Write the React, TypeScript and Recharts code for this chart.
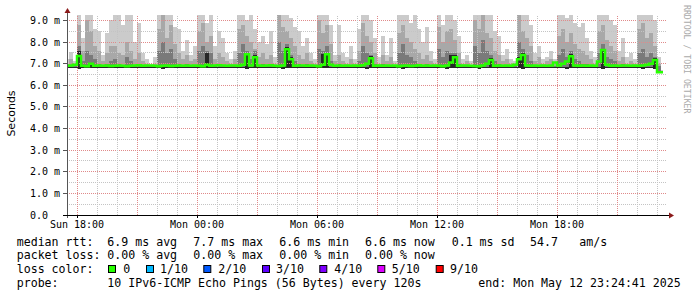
import { ComposedChart, Area, Line, XAxis, YAxis, ReferenceLine } from "recharts";

// samples every 12 minutes, hours counted from Sun 18:00
const START_HOUR = -0.5;
const STEP_HOURS = 0.2;

const TIME_TICKS = [0, 6, 12, 18, 24];
const TIME_LABELS = ["Sun 18:00", "Mon 00:00", "Mon 06:00", "Mon 12:00", "Mon 18:00"];
const HOUR_GRID = [1, 2, 4, 5, 7, 8, 10, 11, 13, 14, 16, 17, 19, 20, 22, 23, 25, 26, 28, 29];
const THREE_HOUR_GRID = [0, 3, 6, 9, 12, 15, 18, 21, 24, 27];
const RTT_TICKS = [0, 1, 2, 3, 4, 5, 6, 7, 8, 9];
const RTT_HALF_GRID = [0.5, 1.5, 2.5, 3.5, 4.5, 5.5, 6.5, 7.5, 8.5];

// rtt values in ms
const MIN_RTT = [
  6.8, 6.82, 6.8, 6.76, 6.79, 6.78, 6.8, 6.79, 6.81, 6.82,
  6.8, 6.8, 6.79, 6.8, 6.81, 6.79, 6.8, 6.82, 6.8, 6.81,
  6.82, 6.81, 6.8, 6.78, 6.77, 6.79, 6.78, 6.8, 6.8, 6.81,
  6.8, 6.82, 6.81, 6.79, 6.78, 6.79, 6.8, 6.81, 6.8, 6.82,
  6.81, 6.82, 6.8, 6.78, 6.79, 6.77, 6.8, 6.79, 6.8, 6.81,
  6.8, 6.8, 6.82, 6.78, 6.77, 6.79, 6.8, 6.79, 6.81, 6.8,
  6.8, 6.82, 6.81, 6.79, 6.78, 6.79, 6.8, 6.82, 6.8, 6.81,
  6.82, 6.8, 6.81, 6.8, 6.78, 6.77, 6.79, 6.8, 6.82, 6.8,
  6.81, 6.8, 6.82, 6.79, 6.77, 6.78, 6.8, 6.79, 6.8, 6.81,
  6.8, 6.81, 6.82, 6.78, 6.79, 6.77, 6.78, 6.79, 6.8, 6.82,
  6.81, 6.82, 6.79, 6.77, 6.78, 6.79, 6.8, 6.8, 6.81, 6.8,
  6.82, 6.81, 6.8, 6.78, 6.77, 6.79, 6.8, 6.81, 6.8, 6.82,
  6.81, 6.8, 6.8, 6.78, 6.79, 6.77, 6.78, 6.8, 6.79, 6.8,
  6.81, 6.8, 6.82, 6.79, 6.77, 6.78, 6.8, 6.79, 6.81, 6.8,
  6.82, 6.81, 6.8, 6.78, 6.77, 6.79, 6.78, 6.76, 6.57, 6.56,
];

const MAX_RTT = [
  7.2, 7.55, 7.1, 9.3, 8.2, 9.3, 9.3, 8.6, 8.5, 7.4,
  8.4, 9.0, 9.3, 9.3, 8.8, 9.3, 9.3, 8.0, 8.9, 7.5,
  7.2, 7.0, 7.3, 9.3, 9.3, 9.3, 9.3, 8.7, 8.6, 7.6,
  8.1, 7.4, 7.8, 9.3, 9.3, 8.9, 9.3, 7.8, 8.5, 8.2,
  7.5, 7.2, 7.6, 9.3, 9.3, 9.0, 9.3, 8.6, 8.0, 8.3,
  7.9, 8.5, 7.3, 9.3, 9.3, 9.3, 9.1, 8.7, 8.5, 7.8,
  8.2, 7.5, 7.2, 9.3, 9.3, 9.3, 8.8, 7.4, 8.8, 7.5,
  7.3, 7.8, 7.2, 8.6, 9.3, 9.3, 9.0, 8.2, 7.3, 8.3,
  7.4, 8.2, 7.1, 9.3, 9.3, 9.3, 8.9, 9.3, 8.6, 8.0,
  8.7, 7.6, 7.2, 9.3, 8.8, 9.3, 9.3, 9.0, 8.3, 7.2,
  7.4, 7.1, 9.3, 9.3, 9.3, 9.3, 9.3, 8.5, 8.3, 7.4,
  7.7, 7.2, 7.1, 9.3, 9.3, 9.3, 8.8, 7.5, 7.8, 7.2,
  7.3, 7.6, 7.2, 9.3, 9.3, 9.1, 9.3, 8.9, 8.7, 8.9,
  8.2, 7.6, 7.3, 9.3, 9.3, 9.3, 9.0, 8.8, 7.6, 8.2,
  7.3, 7.5, 7.2, 9.3, 9.3, 9.3, 9.3, 9.0, 7.3, 6.7,
];

const PING_9 = [
  7.0, 7.2, 6.95, 8.8, 7.6, 9.0, 8.5, 7.8, 7.6, 7.1,
  7.5, 7.8, 7.8, 7.5, 7.4, 8.0, 7.6, 7.2, 7.5, 7.1,
  7.0, 6.95, 7.0, 8.6, 9.3, 8.2, 8.8, 7.9, 7.5, 7.2,
  7.4, 7.1, 7.2, 8.5, 8.9, 8.0, 8.3, 7.2, 7.5, 7.3,
  7.1, 7.0, 7.2, 8.6, 8.8, 8.3, 8.0, 7.7, 7.3, 7.5,
  7.2, 7.4, 7.0, 9.3, 8.7, 8.5, 8.2, 7.8, 7.4, 7.2,
  7.5, 7.1, 7.0, 9.0, 8.4, 8.8, 7.9, 7.1, 7.4, 7.1,
  7.0, 7.2, 7.0, 7.6, 8.9, 8.3, 8.0, 7.5, 7.0, 7.4,
  7.1, 7.3, 6.95, 8.4, 8.8, 8.2, 8.0, 7.7, 7.5, 7.2,
  7.4, 7.1, 7.0, 8.7, 8.0, 8.5, 8.6, 8.1, 7.5, 7.0,
  7.1, 6.95, 9.0, 8.6, 9.3, 8.4, 8.2, 7.6, 7.4, 7.1,
  7.2, 7.0, 6.95, 9.3, 8.5, 8.2, 7.8, 7.1, 7.3, 7.0,
  7.1, 7.2, 7.0, 8.3, 8.6, 8.0, 8.4, 7.9, 7.7, 7.6,
  7.4, 7.2, 7.0, 8.5, 8.8, 8.1, 7.8, 7.6, 7.1, 7.3,
  7.0, 7.1, 7.0, 8.6, 8.9, 8.2, 8.4, 7.8, 7.0, 6.65,
];

const PING_8 = [
  6.9, 6.95, 6.9, 7.8, 7.1, 7.6, 7.4, 7.2, 7.0, 6.92,
  7.0, 7.1, 7.2, 7.0, 6.95, 7.3, 7.1, 6.95, 7.0, 6.9,
  6.9, 6.9, 6.9, 7.6, 8.0, 7.5, 7.7, 7.2, 7.0, 6.92,
  7.0, 6.92, 6.95, 7.6, 7.8, 7.6, 7.5, 6.95, 7.0, 6.95,
  6.92, 6.9, 6.95, 7.5, 7.9, 7.6, 7.2, 7.6, 6.95, 7.0,
  6.95, 7.0, 6.9, 8.0, 7.6, 7.9, 7.4, 7.1, 7.0, 6.92,
  7.0, 6.9, 6.9, 7.7, 7.6, 7.8, 7.1, 6.9, 7.0, 6.92,
  6.9, 6.95, 6.9, 7.1, 7.8, 7.5, 7.4, 7.0, 6.9, 7.0,
  6.92, 6.95, 6.9, 7.5, 7.9, 7.4, 7.3, 7.1, 7.0, 6.95,
  7.0, 6.92, 6.9, 7.7, 7.3, 7.6, 7.5, 7.5, 7.0, 6.9,
  6.95, 6.9, 7.8, 7.5, 8.1, 7.6, 7.4, 7.1, 7.0, 6.92,
  6.95, 6.9, 6.9, 8.0, 7.7, 7.4, 7.1, 6.92, 6.95, 6.9,
  6.92, 6.95, 6.9, 7.4, 7.7, 7.3, 7.6, 7.2, 7.1, 7.0,
  7.0, 6.95, 6.9, 7.5, 7.9, 7.3, 7.2, 7.1, 6.9, 7.0,
  6.9, 6.92, 6.9, 7.5, 7.7, 7.3, 7.5, 7.3, 6.9, 6.62,
];

const PING_7 = [
  6.86, 6.86, 6.86, 7.6, 6.86, 6.86, 7.05, 6.86, 6.86, 6.86,
  6.86, 6.86, 6.86, 6.86, 6.86, 6.86, 6.86, 6.86, 6.86, 6.86,
  6.86, 6.86, 6.86, 6.86, 6.86, 6.86, 6.86, 6.86, 6.86, 6.86,
  6.86, 6.86, 6.86, 6.86, 6.86, 7.5, 6.86, 6.86, 6.86, 6.86,
  6.86, 6.86, 6.86, 6.86, 6.86, 7.5, 6.86, 7.4, 6.86, 6.86,
  6.86, 6.86, 6.86, 6.86, 6.86, 7.75, 7.3, 6.86, 6.86, 6.86,
  6.86, 6.86, 6.86, 6.86, 7.45, 7.5, 6.86, 6.86, 6.86, 6.86,
  6.86, 6.86, 6.86, 6.86, 6.86, 6.86, 7.35, 6.86, 6.86, 6.86,
  6.86, 6.86, 6.86, 6.86, 6.86, 6.86, 6.86, 6.86, 6.86, 6.86,
  6.86, 6.86, 6.86, 6.86, 6.86, 6.86, 7.4, 7.4, 6.86, 6.86,
  6.86, 6.86, 6.86, 6.86, 6.86, 6.86, 7.25, 6.86, 6.86, 6.86,
  6.86, 6.86, 6.86, 7.3, 7.5, 6.86, 6.86, 6.86, 6.86, 6.86,
  6.86, 6.86, 6.86, 6.86, 6.86, 6.86, 7.45, 6.86, 6.86, 6.86,
  6.86, 6.86, 6.86, 6.86, 7.7, 6.86, 6.86, 6.86, 6.86, 6.86,
  6.86, 6.86, 6.86, 6.86, 6.86, 6.86, 6.86, 7.25, 6.6, 6.6,
];

const MEDIAN_RTT = [
  6.9, 6.92, 6.95, 7.35, 6.9, 6.88, 7.0, 6.9, 6.92, 6.9,
  6.91, 6.89, 6.9, 6.92, 6.9, 6.88, 6.9, 6.91, 6.93, 6.9,
  6.92, 6.91, 6.9, 6.88, 6.9, 6.92, 6.89, 6.9, 6.91, 6.9,
  6.92, 6.9, 6.91, 6.9, 6.88, 6.95, 6.9, 6.91, 6.93, 6.92,
  6.9, 6.91, 6.92, 6.9, 6.95, 7.43, 6.92, 7.3, 6.91, 6.9,
  6.92, 6.93, 6.9, 6.89, 6.92, 7.67, 7.2, 6.9, 6.92, 6.91,
  6.9, 6.92, 6.9, 6.88, 6.95, 7.44, 6.95, 6.9, 6.92, 6.9,
  6.91, 6.9, 6.92, 6.9, 6.93, 7.0, 7.25, 6.9, 6.91, 6.9,
  6.92, 6.9, 6.91, 6.88, 6.9, 6.92, 6.89, 6.9, 6.93, 6.9,
  6.91, 6.9, 6.92, 6.9, 6.88, 6.91, 7.05, 7.3, 6.9, 6.91,
  6.92, 6.9, 6.89, 6.88, 6.92, 7.0, 7.17, 6.9, 6.91, 6.9,
  6.92, 6.9, 6.95, 7.2, 7.4, 6.92, 6.9, 6.91, 6.9, 6.92,
  6.9, 6.91, 7.05, 6.92, 7.0, 7.1, 7.34, 6.92, 6.9, 6.91,
  6.9, 6.92, 6.9, 7.1, 7.63, 6.95, 6.9, 6.91, 6.9, 6.92,
  6.91, 6.9, 6.92, 6.9, 6.91, 6.95, 7.0, 7.17, 6.6, 6.6,
];

const LOSS_ITEMS = [
  { label: "0", color: "#26ff00", boxX: 108, textX: 123.3 },
  { label: "1/10", color: "#00b8ff", boxX: 146, textX: 160 },
  { label: "2/10", color: "#0059ff", boxX: 203.3, textX: 218.3 },
  { label: "3/10", color: "#5e00ff", boxX: 262, textX: 276 },
  { label: "4/10", color: "#7e00ff", boxX: 319.3, textX: 334.3 },
  { label: "5/10", color: "#dd00ff", boxX: 377.3, textX: 391.7 },
  { label: "9/10", color: "#ff0000", boxX: 435.7, textX: 450 },
];

const rows = MEDIAN_RTT.map((m, i) => ({
  t: START_HOUR + i * STEP_HOURS,
  lo: MIN_RTT[i],
  max: MAX_RTT[i],
  p9: PING_9[i],
  p8: PING_8[i],
  p7: PING_7[i],
  median: m,
}));

const MONO = "'DejaVu Sans Mono', monospace";

function RttTick(props: any) {
  const v = props.payload.value;
  const label = v === 0 ? "0.0" : `${v.toFixed(1)} m`;
  return (
    <text x={30} y={props.y} dy="0.35em" textAnchor="start" fontFamily={MONO} fontSize={10} fill="#000">
      {label}
    </text>
  );
}

export default function App() {
  const legendRows = [
    { y: 245.6, items: [
      [16.7, "median rtt:"], [107.3, "6.9 ms avg"], [193.3, "7.7 ms max"], [279.3, "6.6 ms min"],
      [365, "6.6 ms now"], [451.7, "0.1 ms sd"], [530, "54.7"], [579.3, "am/s"],
    ] },
    { y: 259.3, items: [
      [16.7, "packet loss:"], [107.3, "0.00 % avg"], [193.3, "0.00 % max"], [279.3, "0.00 % min"], [365, "0.00 % now"],
    ] },
    { y: 273, items: [[16.7, "loss color:"]] },
    { y: 286.7, items: [
      [16.7, "probe:"], [107.3, "10 IPv6-ICMP Echo Pings (56 Bytes) every 120s"], [478.3, "end: Mon May 12 23:24:41 2025"],
    ] },
  ];

  const grid = { strokeDasharray: "1 1", shapeRendering: "crispEdges" } as any;

  return (
    <div style={{ position: "absolute", left: 0, top: 0, width: 697, height: 297, background: "#fff" }}>
      <ComposedChart width={697} height={297} data={rows} margin={{ top: 15, right: 30, bottom: 62, left: 17 }}>
        <XAxis
          type="number"
          dataKey="t"
          domain={[-0.5, 29.5]}
          ticks={TIME_TICKS}
          interval={0}
          allowDataOverflow
          tickFormatter={(v) => TIME_LABELS[TIME_TICKS.indexOf(v)]}
          height={20}
          axisLine={false}
          tickSize={3}
          tickMargin={3}
          tickLine={{ stroke: "#000", shapeRendering: "crispEdges" } as any}
          tick={{ fontFamily: MONO, fontSize: 10, fill: "#000" }}
        />
        <YAxis
          type="number"
          domain={[0, 9.25]}
          ticks={RTT_TICKS}
          interval={0}
          allowDataOverflow
          width={50}
          axisLine={false}
          tickSize={4}
          tickMargin={3}
          tickLine={{ stroke: "#555", shapeRendering: "crispEdges" } as any}
          tick={RttTick}
        />
        <Area type="step" dataKey={(d: any) => [d.lo, d.max]} fill="#cbcbcb" fillOpacity={1} stroke="none" shapeRendering="crispEdges" isAnimationActive={false} />
        <Area type="step" dataKey={(d: any) => [d.lo, d.p9]} fill="#a8a8a8" fillOpacity={1} stroke="none" shapeRendering="crispEdges" isAnimationActive={false} />
        <Area type="step" dataKey={(d: any) => [d.lo, d.p8]} fill="#7a7a7a" fillOpacity={1} stroke="none" shapeRendering="crispEdges" isAnimationActive={false} />
        <Area type="step" dataKey={(d: any) => [d.lo, d.p7]} fill="#262626" fillOpacity={1} stroke="none" shapeRendering="crispEdges" isAnimationActive={false} />
        {RTT_HALF_GRID.map((v) => (
          <ReferenceLine key={`h${v}`} y={v} stroke="#c4c4c4" {...grid} />
        ))}
        {RTT_TICKS.slice(1).map((v) => (
          <ReferenceLine key={`H${v}`} y={v} stroke="#e08a8a" {...grid} />
        ))}
        {HOUR_GRID.map((v) => (
          <ReferenceLine key={`v${v}`} x={v} stroke="#c4c4c4" {...grid} />
        ))}
        {THREE_HOUR_GRID.map((v) => (
          <ReferenceLine key={`V${v}`} x={v} stroke="#e08a8a" {...grid} />
        ))}
        <Line type="step" dataKey="median" stroke="#26ff00" strokeWidth={2.5} dot={false} activeDot={false} isAnimationActive={false} />
      </ComposedChart>

      <svg width={697} height={297} style={{ position: "absolute", left: 0, top: 0, pointerEvents: "none" }}>
        <line x1={67.5} y1={218} x2={67.5} y2={12} stroke="#555" strokeWidth={1} />
        <polygon points="64.5,13 70.5,13 67.5,8" fill="#8b1a1a" />
        <line x1={63} y1={215.5} x2={669} y2={215.5} stroke="#000" strokeWidth={1} />
        <polygon points="669,212.5 669,218.5 674,215.5" fill="#8b1a1a" />
        <text transform="translate(14.5,113.5) rotate(-90)" textAnchor="middle" fontFamily="'DejaVu Sans', sans-serif" fontSize={11} fill="#000">
          Seconds
        </text>
        <text transform="translate(684,5) rotate(90)" fontFamily={MONO} fontSize={8.2} fill="#aaaaaa">
          RRDTOOL / TOBI OETIKER
        </text>
        {legendRows.map((r) =>
          r.items.map(([x, s]) => (
            <text key={`${r.y}-${x}`} x={x as number} y={r.y} fontFamily={MONO} fontSize={11.6} fill="#000" style={{ whiteSpace: "pre" }}>
              {s as string}
            </text>
          ))
        )}
        {LOSS_ITEMS.map((it) => (
          <g key={it.label}>
            <rect x={it.boxX + 0.5} y={265.5} width={7} height={7} fill={it.color} stroke="#000" strokeWidth={1} />
            <text x={it.textX} y={273} fontFamily={MONO} fontSize={11.6} fill="#000">
              {it.label}
            </text>
          </g>
        ))}
      </svg>
    </div>
  );
}
